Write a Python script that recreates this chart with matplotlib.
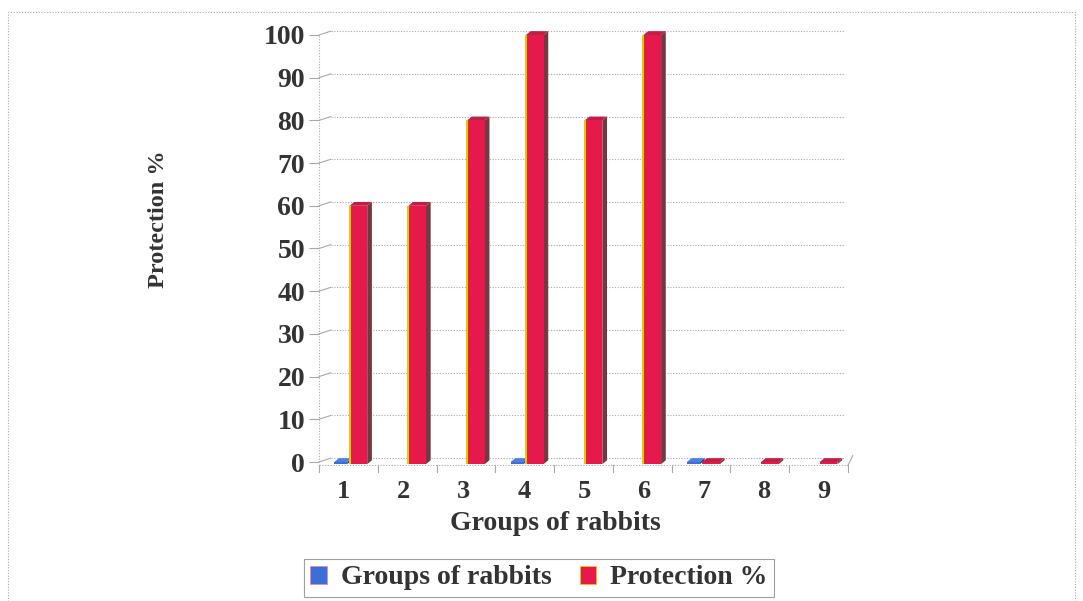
import numpy as np
import matplotlib
matplotlib.use("Agg")
import matplotlib.pyplot as plt
from matplotlib.patches import Polygon, Rectangle

# Data
groups = ["1", "2", "3", "4", "5", "6", "7", "8", "9"]
groups_of_rabbits = [0, np.nan, np.nan, 0, np.nan, np.nan, 0, np.nan, np.nan]
protection = [60, 60, 80, 100, 80, 100, 0, 0, 0]
y_ticks = [0, 10, 20, 30, 40, 50, 60, 70, 80, 90, 100]

BLUE = "#3b6fd6"
BLUE_SIDE = "#1d3f8a"
BLUE_TOP = "#4a7fe0"
RED = "#e5194c"
RED_SIDE = "#6e3b3f"
RED_TOP = "#c21e45"
EDGE_YEL = "#f2c200"
TXT = "#333333"

plt.rcParams["font.family"] = ["Liberation Serif", "DejaVu Serif"]
plt.rcParams["font.weight"] = "bold"

fig = plt.figure(figsize=(10.83, 6.01), dpi=100)
ax = fig.add_axes([319 / 1083, 1 - 462 / 601, (848 - 319) / 1083, (462 - 35) / 601])

n = len(groups)
ax.set_xlim(0.5, n + 0.5)
ax.set_ylim(0, 100)

dx, dy = 0.08, 0.9   # depth offset for the 3-D look
slab = 0.5           # visual thickness of the bar base


def bar3d(x0, w, h, front, side, top, edge=None):
    base = -slab
    ax.add_patch(Polygon([(x0 + w, base), (x0 + w + dx, base + dy), (x0 + w + dx, h + dy), (x0 + w, h)],
                         closed=True, facecolor=side, edgecolor="none", zorder=3, clip_on=False))
    ax.add_patch(Polygon([(x0, h), (x0 + dx, h + dy), (x0 + w + dx, h + dy), (x0 + w, h)],
                         closed=True, facecolor=top, edgecolor="none", zorder=3, clip_on=False))
    ax.add_patch(Rectangle((x0, base), w, h - base, facecolor=front, edgecolor="none", zorder=3,
                           clip_on=False))
    if edge is not None and h > 0:
        ax.plot([x0, x0], [base, h], color=edge, lw=1.5, zorder=4, solid_capstyle="butt", clip_on=False)


# gridlines, offset into depth
for t in y_ticks:
    ax.plot([0.7, n + 0.45], [t + 0.9, t + 0.9], color="#a8a8a8", lw=0.8, ls=(0, (1, 1.5)), zorder=1,
            clip_on=False)
    ax.plot([0.5, 0.7], [t, t + 0.9], color="#a8a8a8", lw=0.8, zorder=1, clip_on=False)
ax.plot([0.5, 0.5], [0, 100], color="#a8a8a8", lw=0.8, ls=(0, (1, 1.5)), zorder=1)

# bars
for i in range(n):
    c = i + 1
    g = groups_of_rabbits[i]
    if not np.isnan(g):
        bar3d(c - 0.24, 0.22, g, BLUE, BLUE_SIDE, BLUE_TOP)
    bar3d(c + 0.02, 0.3, protection[i], RED, RED_SIDE, RED_TOP, edge=EDGE_YEL)

# floor line and category ticks
ax.plot([0.5, n + 0.5], [-0.8, -0.8], color="#a8a8a8", lw=0.8, ls=(0, (1, 1.5)), clip_on=False, zorder=1)
for k in range(n + 1):
    xk = 0.5 + k
    ax.plot([xk, xk], [-0.8, -2.4], color="#a8a8a8", lw=0.8, clip_on=False, zorder=1)
ax.plot([n + 0.5, n + 0.58], [-0.8, 1.5], color="#a8a8a8", lw=0.8, clip_on=False)

for s in ax.spines.values():
    s.set_visible(False)
ax.set_yticks(y_ticks)
ax.set_yticklabels([str(t) for t in y_ticks], fontsize=20, fontweight="bold", color=TXT)
ax.tick_params(axis="y", length=7, color="#a8a8a8", pad=3)
ax.set_xticks([c - 0.08 + (c - 1) * 0.022 for c in range(1, n + 1)])
ax.set_xticklabels(groups, fontsize=19, fontweight="bold", color=TXT)
ax.tick_params(axis="x", length=0, pad=13)

fig.text(555 / 1083, 1 - 523 / 601, "Groups of rabbits", fontsize=20, fontweight="bold",
         color=TXT, ha="center", va="center")
fig.text(158 / 1083, 1 - 219 / 601, "Protection %", rotation=90, fontsize=17.5, fontweight="bold",
         color=TXT, ha="center", va="center")

# legend
handles = [Rectangle((0, 0), 1, 1, facecolor=BLUE, edgecolor="#d08adf", lw=0.6),
           Rectangle((0, 0), 1, 1, facecolor=RED, edgecolor=EDGE_YEL, lw=0.6)]
leg = fig.legend(handles, ["Groups of rabbits", "Protection %"], loc="center",
                 bbox_to_anchor=(539 / 1083, 1 - 578 / 601), ncol=2, frameon=True, fancybox=False,
                 prop={"family": ["Liberation Serif"], "weight": "bold", "size": 20},
                 handlelength=0.6, handleheight=0.6, handletextpad=0.5, columnspacing=1.0,
                 borderpad=0.25, labelcolor=TXT)
leg.get_frame().set_edgecolor("#888888")
leg.get_frame().set_linewidth(0.8)

# outer dotted frame
fig.patches.append(Rectangle((8 / 1083, 0.0), (1075 - 8) / 1083, 1 - 12 / 601, transform=fig.transFigure,
                             fill=False, edgecolor="#a8a8a8", lw=0.8, ls=(0, (1, 1.5))))

fig.savefig("out.png", dpi=100)
